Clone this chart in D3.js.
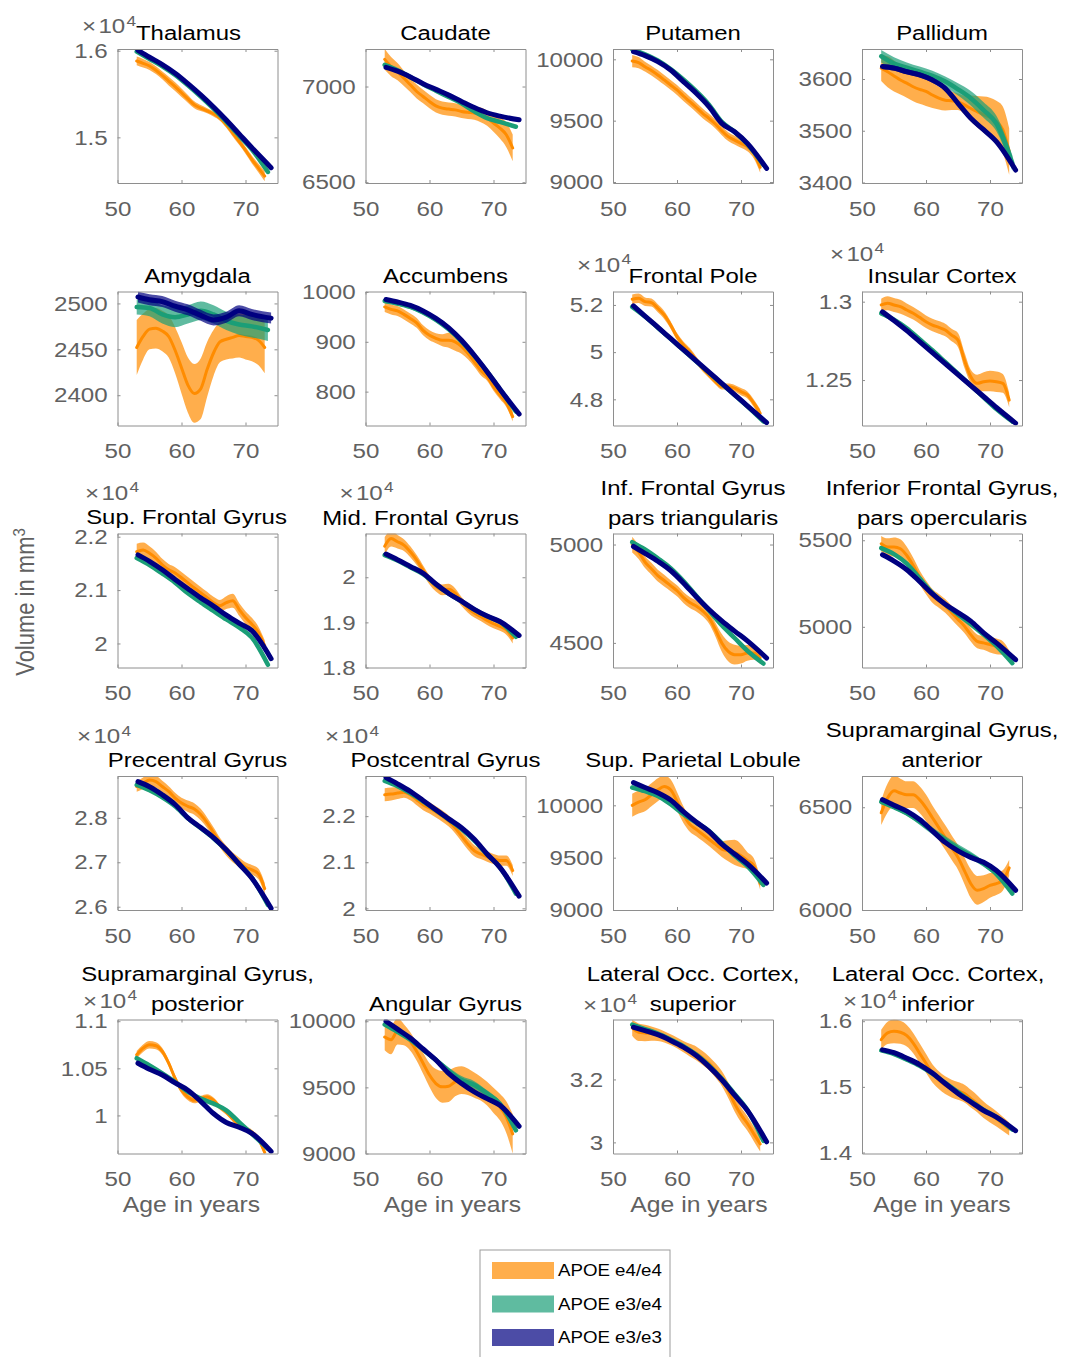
<!DOCTYPE html>
<html>
<head>
<meta charset="utf-8">
<script src="https://cdn.jsdelivr.net/npm/d3@7"></script>
<style>
  body { margin: 0; background: #fff; }
  text { font-family: "Liberation Sans", Arial, Helvetica, sans-serif; }
</style>
</head>
<body>
<script>
// ---- data (volumes in mm^3) ----
var regions = ["Thalamus", "Caudate", "Putamen", "Pallidum",
  "Amygdala", "Accumbens", "Frontal Pole", "Insular Cortex",
  "Sup. Frontal Gyrus", "Mid. Frontal Gyrus", "Inf. Frontal Gyrus|pars triangularis", "Inferior Frontal Gyrus,|pars opercularis",
  "Precentral Gyrus", "Postcentral Gyrus", "Sup. Parietal Lobule", "Supramarginal Gyrus,|anterior",
  "Supramarginal Gyrus,|posterior", "Angular Gyrus", "Lateral Occ. Cortex,|superior", "Lateral Occ. Cortex,|inferior"];

var legendLabels = ["APOE e4/e4", "APOE e3/e4", "APOE e3/e3"];
var xTicks = [50, 60, 70];

var agesE44 = [53, 54, 55, 56, 57, 58, 59, 60, 61, 62, 63, 64, 65, 66, 67, 68, 69, 70, 71, 72, 73];
var agesE34 = [53, 55, 57, 59, 61, 63, 65, 67, 69, 71, 73.5];
var agesE33 = [53.2, 55, 57, 59, 61, 63, 65, 67, 69, 71, 74];

var e44Mean = [
  [15882,15855,15824,15775,15715,15650,15585,15515,15445,15376,15338,15307,15272,15223,15146,15050,14954,14851,14744,14648,14552],
  [7142,7104,7078,7043,7009,6974,6948,6922,6899,6887,6882,6878,6870,6865,6861,6852,6835,6809,6783,6748,6679],
  [9986,9973,9940,9908,9872,9832,9791,9750,9701,9655,9609,9560,9519,9473,9418,9370,9342,9315,9288,9234,9120],
  [3621,3614,3606,3598,3592,3585,3580,3576,3569,3563,3559,3558,3556,3550,3543,3537,3531,3526,3518,3502,3460],
  [2452,2464,2472,2473,2470,2464,2449,2430,2411,2402,2407,2428,2446,2458,2461,2463,2465,2464,2463,2460,2452],
  [970,965,962,955,947,938,923,913,907,903,903,900,891,877,860,843,830,810,793,777,750],
  [52240,52282,52140,52100,51860,51576,51153,50657,50305,50022,49670,49317,49034,48750,48538,48538,48470,48326,48186,47835,47411],
  [12979,12990,12979,12968,12947,12926,12900,12872,12851,12836,12819,12787,12755,12628,12521,12479,12489,12494,12489,12479,12372],
  [21720,21750,21690,21600,21475,21380,21320,21230,21135,21040,20950,20860,20765,20705,20765,20800,20640,20485,20360,20210,19960],
  [20690,20860,20787,20713,20566,20382,20162,19941,19794,19720,19735,19647,19463,19316,19206,19132,19044,18970,18912,18838,18654],
  [5000,4962,4911,4877,4842,4817,4791,4765,4731,4705,4688,4663,4628,4568,4500,4457,4440,4440,4449,4449,4423],
  [5480,5461,5461,5451,5412,5354,5286,5228,5179,5150,5121,5082,5043,5004,4955,4916,4907,4897,4887,4877,4829],
  [28704,28778,28852,28815,28704,28593,28444,28333,28259,28200,28074,27889,27667,27444,27259,27111,27000,26889,26830,26741,26407],
  [22464,22479,22500,22521,22464,22357,22250,22179,22093,22000,21893,21750,21571,21393,21250,21179,21121,21071,21036,21036,20821],
  [10000,10031,10053,10100,10148,10179,10148,10038,9912,9818,9770,9723,9676,9629,9582,9566,9550,9519,9472,9425,9252],
  [6473,6545,6580,6569,6561,6561,6537,6497,6449,6401,6353,6304,6256,6192,6128,6096,6104,6120,6128,6144,6205],
  [10643,10714,10750,10739,10679,10554,10393,10268,10196,10161,10179,10196,10161,10089,10036,9964,9893,9857,9821,9750,9607],
  [9880,9860,9924,9898,9847,9771,9682,9593,9529,9504,9509,9542,9555,9542,9517,9491,9453,9402,9351,9275,9148],
  [33636,33500,33476,33455,33420,33350,33262,33160,33040,32930,32830,32680,32510,32290,32030,31660,31230,30880,30600,30270,29950],
  [15718,15821,15846,15831,15779,15667,15513,15359,15205,15103,15026,14974,14938,14897,14821,14744,14651,14579,14513,14436,14359]
];
var e44Ci = [
  [50,50,45,45,45,50,50,50,45,40,35,30,30,30,35,40,40,40,45,50,60],
  [55,50,45,40,38,36,35,35,35,35,35,35,35,35,35,38,40,45,55,65,70],
  [50,45,40,40,40,40,40,40,40,40,40,40,38,36,36,36,36,36,38,42,45],
  [25,30,30,28,28,28,28,28,25,22,20,18,16,18,25,30,35,38,40,45,45],
  [30,25,22,22,22,23,25,28,30,32,33,30,25,22,22,23,24,25,26,27,28],
  [10,10,10,10,10,10,10,10,10,12,15,18,15,12,10,10,8,8,8,8,10],
  [200,200,180,170,170,170,160,150,150,150,150,140,130,120,120,130,140,150,150,160,170],
  [40,45,45,45,42,40,40,40,40,40,40,40,45,50,45,55,60,65,65,60,45],
  [150,140,130,120,110,110,110,110,110,110,110,110,110,110,120,130,120,120,120,110,100],
  [200,180,150,130,120,110,100,100,110,120,120,110,100,100,100,100,100,100,100,110,120],
  [40,35,30,30,30,30,28,28,28,28,28,28,30,35,45,50,50,45,40,35,30],
  [45,50,55,55,50,45,40,40,40,40,40,40,40,40,40,40,40,45,45,40,35],
  [120,130,150,140,130,120,120,120,130,130,130,120,120,110,110,110,110,110,110,120,130],
  [140,140,130,120,120,120,120,120,120,120,120,120,120,120,120,110,110,110,110,110,120],
  [110,110,110,110,110,105,100,90,80,70,65,65,65,70,75,100,120,110,80,70,60],
  [60,70,75,70,65,65,65,65,60,60,60,60,60,65,70,70,65,60,55,50,40],
  [40,40,40,38,36,35,35,35,35,32,30,30,30,30,30,30,28,28,28,30,35],
  [100,110,100,80,70,70,80,90,110,120,120,110,105,100,95,90,90,95,100,120,150],
  [250,280,260,230,200,180,170,170,180,200,220,220,220,230,240,250,250,240,230,230,240],
  [150,170,180,175,165,155,150,145,140,135,135,135,135,135,135,130,125,120,115,110,100]
];

var e34Mean = [
  [15990,15905,15820,15720,15600,15470,15330,15180,15020,14860,14600],
  [7113,7085,7050,7012,6978,6945,6912,6870,6835,6815,6790],
  [10080,10040,9990,9920,9835,9740,9630,9490,9410,9310,9140],
  [3644,3630,3622,3614,3606,3595,3580,3563,3540,3514,3437],
  [2496,2495,2488,2485,2488,2492,2488,2481,2477,2475,2471],
  [982,977,970,959,944,925,901,872,840,805,760],
  [51920,51510,51035,50560,50085,49610,49130,48660,48180,47705,47060],
  [12925,12885,12830,12760,12690,12615,12540,12465,12390,12315,12235],
  [21600,21470,21310,21140,20940,20770,20610,20450,20300,20110,19600],
  [20490,20370,20220,20070,19840,19635,19465,19285,19135,19010,18680],
  [5012,4975,4930,4880,4815,4740,4665,4590,4525,4460,4395],
  [5455,5420,5365,5280,5195,5130,5072,5015,4955,4890,4790],
  [28740,28620,28460,28260,27990,27770,27540,27270,26960,26650,26040],
  [22764,22650,22500,22320,22130,21930,21720,21470,21170,20890,20320],
  [10170,10135,10090,10010,9915,9835,9755,9640,9520,9420,9240],
  [6526,6500,6470,6430,6385,6340,6300,6265,6225,6175,6080],
  [10607,10530,10446,10355,10250,10180,10125,10054,9929,9805,9645],
  [9975,9920,9860,9785,9707,9625,9555,9517,9453,9377,9175],
  [33740,33600,33460,33270,33060,32790,32440,32020,31540,31030,30050],
  [15555,15500,15415,15320,15200,15060,14920,14780,14650,14540,14350]
];
var e34Ci = [15, 8, 12, [12,12,10,10,10,10,12,14,15,15,15], [8,9,10,11,10,10,10,10,11,12,12], 4, 60, 12,
  30, 30, 10, 10, 35, 35, 20, [10,10,12,15,18,20,20,18,15,12,10],
  15, [15,15,15,15,20,25,30,30,25,20,15], 50, 25];

var e33Mean = [
  [16005,15925,15840,15740,15620,15490,15350,15200,15040,14880,14650],
  [7100,7080,7050,7015,6985,6955,6922,6890,6863,6845,6826],
  [10062,10030,9981,9913,9818,9723,9614,9478,9410,9315,9111],
  [3624,3621,3614,3608,3598,3582,3553,3524,3502,3479,3424],
  [2507,2504,2502,2497,2493,2487,2482,2485,2492,2488,2484],
  [985,980,973,962,947,928,903,873,840,805,755],
  [51960,51530,51055,50580,50105,49630,49150,48680,48200,47725,47010],
  [12935,12880,12815,12745,12675,12605,12535,12465,12395,12325,12225],
  [21660,21540,21380,21200,21025,20855,20700,20530,20380,20240,19715],
  [20515,20390,20240,20090,19850,19640,19470,19290,19140,19020,18710],
  [4990,4955,4915,4868,4805,4735,4670,4612,4560,4510,4423],
  [5416,5380,5330,5262,5190,5130,5082,5033,4965,4907,4810],
  [28815,28700,28519,28300,28000,27780,27556,27280,26960,26640,25965],
  [22836,22700,22536,22340,22140,21940,21750,21500,21180,20890,20265],
  [10217,10170,10120,10050,9940,9840,9750,9630,9535,9440,9258],
  [6537,6510,6481,6440,6385,6329,6288,6256,6232,6192,6096],
  [10554,10490,10429,10345,10268,10150,10020,9925,9875,9810,9618],
  [10000,9940,9873,9790,9707,9606,9530,9466,9415,9364,9206],
  [33658,33550,33422,33240,33027,32760,32406,31990,31500,31016,30020],
  [15564,15520,15436,15340,15210,15050,14900,14770,14640,14540,14333]
];
var e33Ci = [15, 6, 12, 5, 6, 3, 50, 10, 25, 25, 8, 8, 35, 35, 15, 8, 15, 12, 50, 25];

var yDomains = [
  [14473, 16020], [6496, 7196], [8992, 10084], [3399, 3658],
  [2367, 2513], [732, 1001], [46890, 52570], [12210, 13065],
  [19550, 22060], [18000, 20970], [4375, 5056], [4765, 5539],
  [25926, 28941], [19964, 22871], [9000, 10280], [6000, 6652],
  [9596, 11018], [9000, 10013], [29647, 33904], [13985, 16026]
];
var yTicks = [
  [15000, 16000], [6500, 7000], [9000, 9500, 10000], [3400, 3500, 3600],
  [2400, 2450, 2500], [800, 900, 1000], [48000, 50000, 52000], [12500, 13000],
  [20000, 21000, 22000], [18000, 19000, 20000], [4500, 5000], [5000, 5500],
  [26000, 27000, 28000], [20000, 21000, 22000], [9000, 9500, 10000], [6000, 6500],
  [10000, 10500, 11000], [9000, 9500, 10000], [30000, 32000], [14000, 15000, 16000]
];
var yExp = [4, 0, 0, 0, 0, 0, 4, 4, 4, 4, 0, 0, 4, 4, 0, 0, 4, 0, 4, 4];

// ---- layout ----
var width = 1065, height = 1357;
var colX = [117.5, 365.5, 613, 862],
    rowY = [49, 291.5, 533.5, 776, 1019.5];
var pw = 160, ph = 134;
var SX = 1.15;   // the original text is a little wider than Arial
var tickGrey = "#616161", boxGrey = "#8e8e8e";
var colors = ["#ff8c00", "#1b9e77", "#000080"];
var lineW = [3, 4.5, 5];
// exponent label offsets (dx from left edge, dy above top), title shifts, x-label shifts
var expPos = {0: [-35.5, 16], 6: [-36, 20], 7: [-32, 31], 8: [-32.5, 34], 9: [-26, 34],
              12: [-40.5, 33], 13: [-40.5, 33], 16: [-34.5, 12], 18: [-30, 8], 19: [-19, 12]};
var titleDx = {0: -9, 8: -11, 9: -25, 19: -4};
var titleDy = {8: -1};
var xlabDx = [-6, 7, 6, 0];

var svg = d3.select("body").append("svg")
    .attr("width", width)
    .attr("height", height);

function stretchText(sel, x, y, sx, sy)
{
    sel.attr("transform", "translate(" + x + "," + y + ") scale(" + sx + "," + (sy || 1) + ")");
}

regions.forEach(function (name, k)
{
    var col = k % 4, row = Math.floor(k / 4);
    var g = svg.append("g")
        .attr("transform", "translate(" + colX[col] + "," + rowY[row] + ")");

    var x = d3.scaleLinear().domain([50, 75]).range([0, pw]);
    var y = d3.scaleLinear().domain(yDomains[k]).range([ph, 0]);

    g.append("clipPath").attr("id", "clip" + k)
        .append("rect").attr("width", pw).attr("height", ph);

    var series = [
        {ages: agesE44, mean: e44Mean[k], ci: e44Ci[k]},
        {ages: agesE34, mean: e34Mean[k], ci: e34Ci[k]},
        {ages: agesE33, mean: e33Mean[k], ci: e33Ci[k]}
    ];

    var plot = g.append("g").attr("clip-path", "url(#clip" + k + ")");

    series.forEach(function (s, j)
    {
        var half = function (i) { return Array.isArray(s.ci) ? s.ci[i] : s.ci; };
        var idx = d3.range(s.mean.length);

        var band = d3.area()
            .x(function (i) { return x(s.ages[i]); })
            .y0(function (i) { return y(s.mean[i] - half(i)); })
            .y1(function (i) { return y(s.mean[i] + half(i)); })
            .curve(d3.curveMonotoneX);

        var line = d3.line()
            .x(function (i) { return x(s.ages[i]); })
            .y(function (i) { return y(s.mean[i]); })
            .curve(d3.curveMonotoneX);

        plot.append("path")
            .attr("d", band(idx))
            .style("fill", colors[j])
            .style("fill-opacity", 0.7)
            .style("stroke", "none");

        plot.append("path")
            .attr("d", line(idx))
            .style("fill", "none")
            .style("stroke", colors[j])
            .style("stroke-width", lineW[j])
            .style("stroke-linecap", "round")
            .style("stroke-linejoin", "round");
    });

    // box with inward ticks on all four sides
    var fmt = yExp[k] ? function (d) { return String(+(d / 1e4).toFixed(3)); } : d3.format("d");

    var xAxis = d3.axisBottom(x).tickValues(xTicks).tickSizeInner(-3).tickSizeOuter(0)
        .tickPadding(18).tickFormat(d3.format("d"));
    var xTop = d3.axisTop(x).tickValues(xTicks).tickSizeInner(-3).tickSizeOuter(0)
        .tickFormat(function () { return ""; });
    var yAxis = d3.axisLeft(y).tickValues(yTicks[k]).tickSizeInner(-3).tickSizeOuter(0)
        .tickPadding(8.5).tickFormat(fmt);
    var yRight = d3.axisRight(y).tickValues(yTicks[k]).tickSizeInner(-3).tickSizeOuter(0)
        .tickFormat(function () { return ""; });

    var axes = [
        g.append("g").attr("transform", "translate(0," + ph + ")").call(xAxis),
        g.append("g").call(xTop),
        g.append("g").call(yAxis),
        g.append("g").attr("transform", "translate(" + pw + ",0)").call(yRight)
    ];
    axes.forEach(function (a)
    {
        a.select(".domain").style("stroke", boxGrey);
        a.selectAll(".tick line").style("stroke", boxGrey);
        a.selectAll(".tick text")
            .style("font-size", "21px")
            .style("fill", tickGrey)
            .attr("transform", "scale(" + SX + ",1)");
    });

    // exponent label
    if (yExp[k])
    {
        var ep = expPos[k];
        var et = g.append("text")
            .style("font-size", "21px")
            .style("fill", tickGrey);
        et.append("tspan").text("\u00d7");
        et.append("tspan").attr("dx", 2).text("10");
        et.append("tspan").attr("dx", 1).attr("dy", "-0.5em").style("font-size", "15px").text(yExp[k]);
        stretchText(et, ep[0], -ep[1], SX);
    }

    // title, one or two lines
    var lines = name.split("|");
    lines.forEach(function (t, i)
    {
        var tt = g.append("text")
            .attr("text-anchor", "middle")
            .style("font-size", "21px")
            .style("fill", "#000")
            .text(t);
        stretchText(tt, pw / 2 + (titleDx[k] || 0),
            -9 + (titleDy[k] || 0) - (lines.length - 1 - i) * 30, 1.14);
    });

    if (row === 4)
    {
        var xl = g.append("text")
            .attr("text-anchor", "middle")
            .style("font-size", "21.5px")
            .style("fill", tickGrey)
            .text("Age in years");
        stretchText(xl, pw / 2 + xlabDx[col], ph + 58.5, SX);
    }
});

// y label
var yl = svg.append("text")
    .attr("text-anchor", "middle")
    .style("font-size", "22px")
    .style("fill", tickGrey)
    .attr("transform", "translate(34,602) rotate(-90) scale(1," + SX + ")");
yl.append("tspan").text("Volume in mm");
yl.append("tspan").attr("dy", "-0.5em").style("font-size", "15px").text("3");

// legend
var legend = svg.append("g").attr("transform", "translate(480,1250)");
legend.append("rect")
    .attr("width", 190).attr("height", 130)
    .style("fill", "#fff")
    .style("stroke", "#9c9c9c");
legendLabels.forEach(function (lab, i)
{
    legend.append("rect")
        .attr("x", 12).attr("y", 12 + i * 33.5)
        .attr("width", 62).attr("height", 17)
        .style("fill", colors[i])
        .style("fill-opacity", 0.7);
    var lt = legend.append("text")
        .style("font-size", "17px")
        .style("fill", "#000")
        .text(lab);
    stretchText(lt, 78, 26 + i * 33.5, 1.1);
});
</script>
</body>
</html>
